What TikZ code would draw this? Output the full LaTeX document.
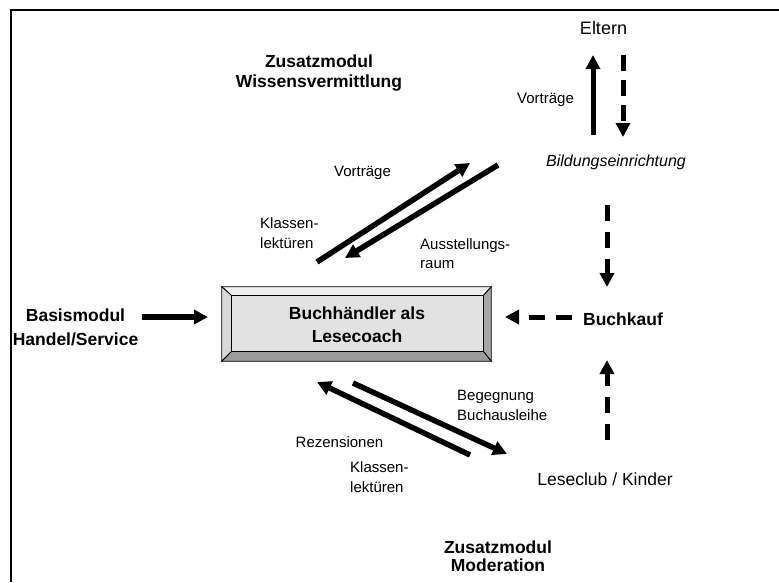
\documentclass[tikz,border=0pt]{standalone}
\usepackage{fontspec}
\setmainfont{Liberation Sans}
\usetikzlibrary{arrows.meta}
\definecolor{bvtop}{HTML}{EFEFEF}
\definecolor{bvleft}{HTML}{D8D8D8}
\definecolor{bvright}{HTML}{A6A6A6}
\definecolor{bvbot}{HTML}{9C9C9C}
\definecolor{bvface}{HTML}{E2E2E2}
\begin{document}
\begin{tikzpicture}[x=1pt,y=-1pt,
  arr/.style={line width=5.5pt,-{Triangle[length=14pt,width=14pt]}},
  darr/.style={arr,dash pattern=on 16pt off 11pt},
  lbl/.style={inner sep=0pt,font=\fontsize{15}{20}\selectfont,align=left},
  big/.style={inner sep=0pt,font=\fontsize{17.5}{22}\selectfont},
  bld/.style={inner sep=0pt,font=\fontsize{17.5}{22}\selectfont\bfseries,align=center},
  bevel/.style={draw=black,line width=0.8pt}]
\useasboundingbox (0,0) rectangle (779,582);
\fill[white] (0,0) rectangle (779,582);
% open frame
\draw[line width=2.5pt] (11,582) -- (11,10) -- (779,10);

% central bevelled box
\node[minimum width=269pt,minimum height=74pt,inner sep=0pt] (coach) at (356.5,324) {};
\coordinate (inw) at ([shift={(10,9)}]coach.north west);
\coordinate (ine) at ([shift={(-8,9)}]coach.north east);
\coordinate (ise) at ([shift={(-8,-10)}]coach.south east);
\coordinate (isw) at ([shift={(10,-10)}]coach.south west);
\filldraw[bevel,fill=bvtop] (coach.north west) -- (coach.north east) -- (ine) -- (inw) -- cycle;
\filldraw[bevel,fill=bvleft] (coach.north west) -- (inw) -- (isw) -- (coach.south west) -- cycle;
\filldraw[bevel,fill=bvright] (coach.north east) -- (coach.south east) -- (ise) -- (ine) -- cycle;
\filldraw[bevel,fill=bvbot] (coach.south west) -- (isw) -- (ise) -- (coach.south east) -- cycle;
\filldraw[bevel,fill=bvface] (inw) rectangle (ise);
\node[bld,font=\fontsize{17.5}{23}\selectfont\bfseries] (coachtxt) at (357,325) {Buchhändler als\\Lesecoach};

% texts
\node[bld,font=\fontsize{17.5}{19.5}\selectfont\bfseries] (zw) at (319,73) {Zusatzmodul\\Wissensvermittlung};
\node[big,font=\fontsize{18}{22}\selectfont] (eltern) at (603.5,28) {Eltern};
\node[lbl] (vortr1) at (545.5,100) {Vorträge};
\node[big,font=\fontsize{16}{20}\selectfont\itshape] (bild) at (616,162) {Bildungseinrichtung};
\node[lbl] (vortr2) at (362.5,173) {Vorträge};
\node[lbl,anchor=west] (kl1) at (260,233) {Klassen-\\lektüren};
\node[lbl,anchor=west,font=\fontsize{15}{19}\selectfont] (aus) at (420,254) {Ausstellungs-\\raum};
\node[bld,font=\fontsize{17.5}{24}\selectfont\bfseries] (basis) at (75.5,327) {Basismodul\\Handel/Service};
\node[bld] (buchkauf) at (623,319) {Buchkauf};
\node[lbl,anchor=west] (begeg) at (457,405) {Begegnung\\Buchausleihe};
\node[lbl] (rez) at (339.5,442) {Rezensionen};
\node[lbl,anchor=west] (kl2) at (350,477) {Klassen-\\lektüren};
\node[big] (lese) at (605,479) {Leseclub / Kinder};
\node[bld,font=\fontsize{17.5}{18}\selectfont\bfseries] (zm) at (498,556) {Zusatzmodul\\Moderation};

% connector end points
\coordinate (bs) at (142,317);   \coordinate (be) at (208,317);
\coordinate (ua1) at (317,262);  \coordinate (ua2) at (470,163);
\coordinate (ub1) at (498,165);  \coordinate (ub2) at (345,258);
\coordinate (la1) at (470,455);  \coordinate (la2) at (317,382);
\coordinate (lb1) at (353,383);  \coordinate (lb2) at (507,454);
\coordinate (e1) at (593,135);   \coordinate (e2) at (593,55);
\coordinate (e3) at (623,55);    \coordinate (e4) at (623,137);
\coordinate (bk1) at (607,205);  \coordinate (bk2) at (607,287);
\coordinate (bh1) at (572,317);  \coordinate (bh2) at (505,317);
\coordinate (lk1) at (607,440);  \coordinate (lk2) at (607,360);

% connectors
\draw[arr] (bs) -- (be);
\draw[arr] (ua1) -- (ua2);
\draw[arr] (ub1) -- (ub2);
\draw[arr] (la1) -- (la2);
\draw[arr] (lb1) -- (lb2);
\draw[arr,line width=5pt] (e1) -- (e2);
\draw[darr,line width=5pt,dash pattern=on 16pt off 9pt] (e3) -- (e4);
\draw[darr,line width=5pt] (bk1) -- (bk2);
\draw[darr,line width=5pt] (bh1) -- (bh2);
\draw[darr,line width=5pt] (lk1) -- (lk2);
\end{tikzpicture}
\end{document}
